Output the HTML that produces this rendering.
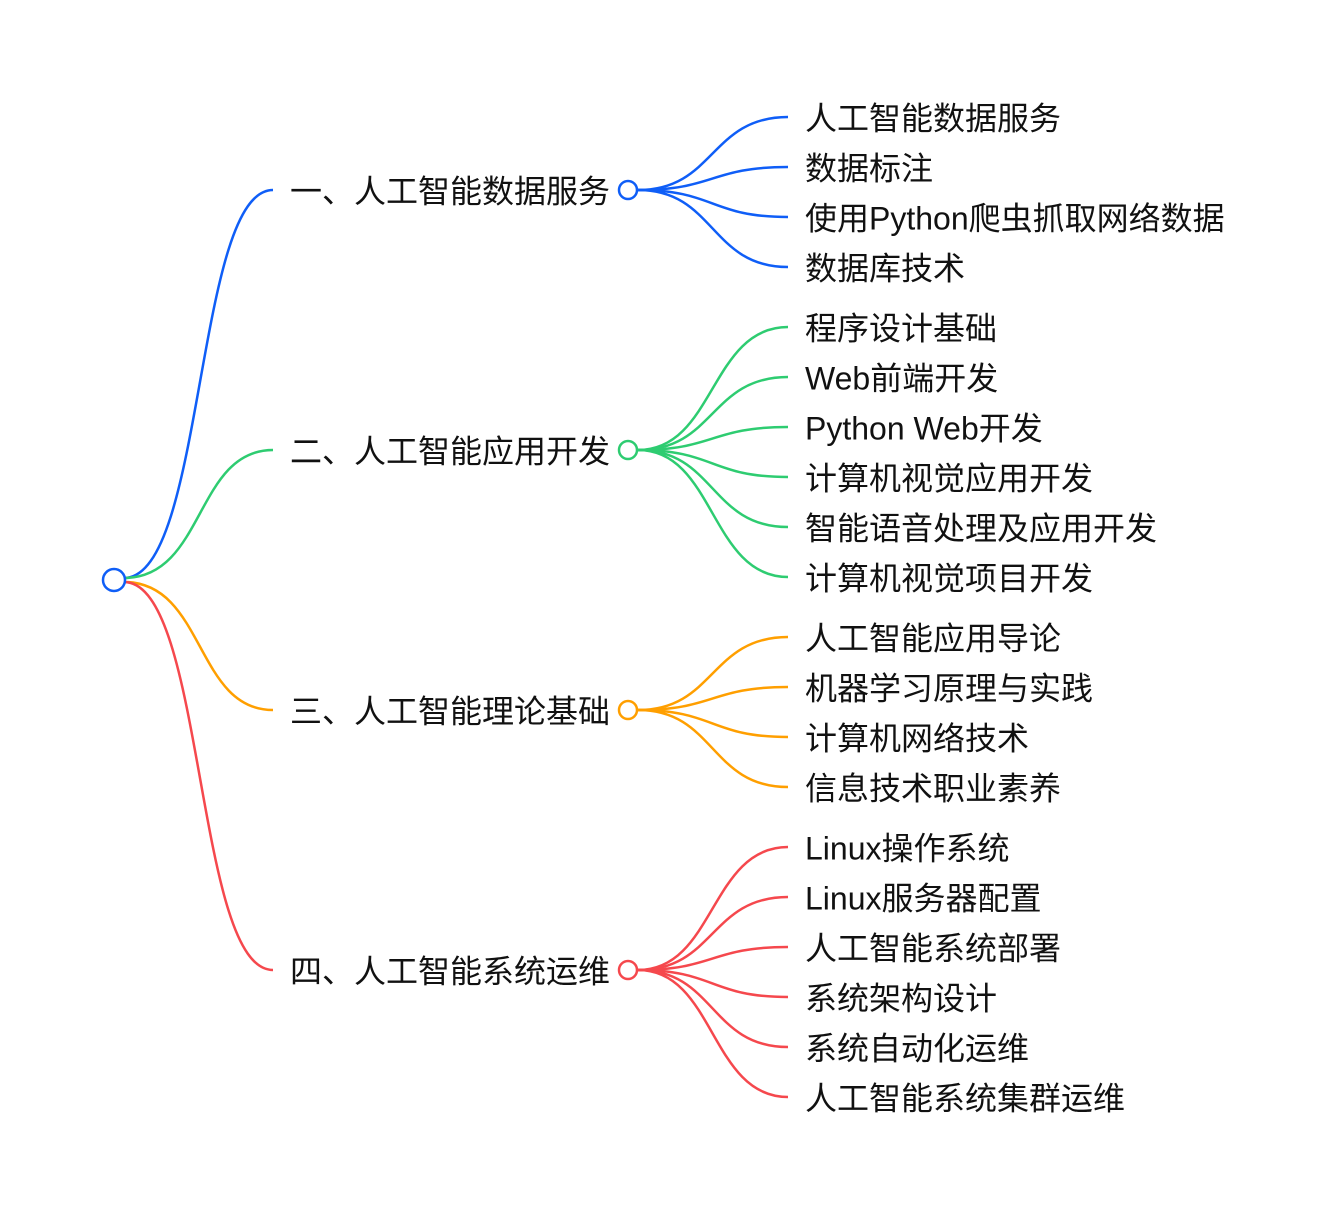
<!DOCTYPE html>
<html><head><meta charset="utf-8"><style>
html,body{margin:0;padding:0;background:#fff;}
svg text{font-family:"Liberation Sans","Noto Sans CJK SC",sans-serif;font-size:32px;fill:#111;dominant-baseline:central;}
</style></head><body>
<svg width="1326" height="1212" viewBox="0 0 1326 1212" xmlns="http://www.w3.org/2000/svg">
<g fill="none" stroke-width="2.5">
<path d="M124 578 C205 578,195 190,273 190" stroke="#0f5ef7"/>
<path d="M124 578 C205 578,195 450,273 450" stroke="#2ecc71"/>
<path d="M124 582 C205 582,195 710,273 710" stroke="#ff9f00"/>
<path d="M124 582 C205 582,195 970,273 970" stroke="#f5484d"/>
<g stroke="#0f5ef7">
<path d="M638 190 C715 190,710 117,788 117"/><path d="M638 190 C715 190,710 167,788 167"/><path d="M638 190 C715 190,710 217,788 217"/><path d="M638 190 C715 190,710 267,788 267"/>
</g>
<g stroke="#2ecc71">
<path d="M638 450 C715 450,710 327,788 327"/><path d="M638 450 C715 450,710 377,788 377"/><path d="M638 450 C715 450,710 427,788 427"/><path d="M638 450 C715 450,710 477,788 477"/><path d="M638 450 C715 450,710 527,788 527"/><path d="M638 450 C715 450,710 577,788 577"/>
</g>
<g stroke="#ff9f00">
<path d="M638 710 C715 710,710 637,788 637"/><path d="M638 710 C715 710,710 687,788 687"/><path d="M638 710 C715 710,710 737,788 737"/><path d="M638 710 C715 710,710 787,788 787"/>
</g>
<g stroke="#f5484d">
<path d="M638 970 C715 970,710 847,788 847"/><path d="M638 970 C715 970,710 897,788 897"/><path d="M638 970 C715 970,710 947,788 947"/><path d="M638 970 C715 970,710 997,788 997"/><path d="M638 970 C715 970,710 1047,788 1047"/><path d="M638 970 C715 970,710 1097,788 1097"/>
</g>
<circle cx="114" cy="580" r="11" stroke="#0f5ef7" fill="#fff"/>
<circle cx="628" cy="190" r="9" stroke="#0f5ef7" fill="#fff"/>
<circle cx="628" cy="450" r="9" stroke="#2ecc71" fill="#fff"/>
<circle cx="628" cy="710" r="9" stroke="#ff9f00" fill="#fff"/>
<circle cx="628" cy="970" r="9" stroke="#f5484d" fill="#fff"/>
</g>
<g transform="translate(0,1.5)">
<text x="290" y="190">一、人工智能数据服务</text>
<text x="290" y="450">二、人工智能应用开发</text>
<text x="290" y="710">三、人工智能理论基础</text>
<text x="290" y="970">四、人工智能系统运维</text>
<text x="805" y="117">人工智能数据服务</text>
<text x="805" y="167">数据标注</text>
<text x="805" y="217">使用Python爬虫抓取网络数据</text>
<text x="805" y="267">数据库技术</text>
<text x="805" y="327">程序设计基础</text>
<text x="805" y="377">Web前端开发</text>
<text x="805" y="427">Python Web开发</text>
<text x="805" y="477">计算机视觉应用开发</text>
<text x="805" y="527">智能语音处理及应用开发</text>
<text x="805" y="577">计算机视觉项目开发</text>
<text x="805" y="637">人工智能应用导论</text>
<text x="805" y="687">机器学习原理与实践</text>
<text x="805" y="737">计算机网络技术</text>
<text x="805" y="787">信息技术职业素养</text>
<text x="805" y="847">Linux操作系统</text>
<text x="805" y="897">Linux服务器配置</text>
<text x="805" y="947">人工智能系统部署</text>
<text x="805" y="997">系统架构设计</text>
<text x="805" y="1047">系统自动化运维</text>
<text x="805" y="1097">人工智能系统集群运维</text>
</g>
</svg>
</body></html>
